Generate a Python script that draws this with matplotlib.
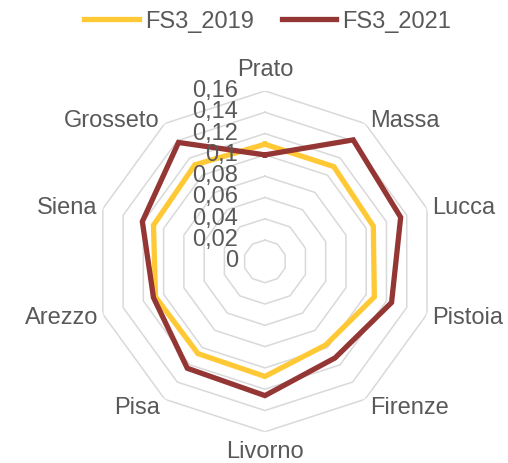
import numpy as np
import matplotlib
matplotlib.use('Agg')
import matplotlib.pyplot as plt

plt.rcParams['font.family'] = ['Liberation Sans', 'DejaVu Sans']

categories = ['Prato', 'Massa', 'Lucca', 'Pistoia', 'Firenze',
              'Livorno', 'Pisa', 'Arezzo', 'Siena', 'Grosseto']
fs3_2019 = [0.110, 0.110, 0.107, 0.108, 0.097, 0.108, 0.107, 0.108, 0.110, 0.112]
fs3_2021 = [0.100, 0.141, 0.134, 0.125, 0.112, 0.126, 0.124, 0.110, 0.121, 0.138]
r_ticks = [0, 0.02, 0.04, 0.06, 0.08, 0.10, 0.12, 0.14, 0.16]
r_labels = ['0', '0,02', '0,04', '0,06', '0,08', '0,1', '0,12', '0,14', '0,16']

# label offsets in pixels from the outer ring vertex
label_pos = {
    'Prato': (0, 22, 'center'), 'Massa': (5, 4, 'left'), 'Lucca': (5, 2, 'left'),
    'Pistoia': (5, -3, 'left'), 'Firenze': (5, -8, 'left'), 'Livorno': (0, -19, 'center'),
    'Pisa': (-5, -8, 'right'), 'Arezzo': (-5, -3, 'right'), 'Siena': (-5, 2, 'right'),
    'Grosseto': (-5, 4, 'right'),
}

text_col = '#595959'
grid_col = '#D9D9D9'
fsize = 17

n = len(categories)
theta = np.arange(n) * 2 * np.pi / n
theta_c = np.append(theta, theta[0])

fig = plt.figure(figsize=(5.08, 4.64), dpi=100)
ax = fig.add_axes([0.186, 0.067, 0.671, 0.735], projection='polar')
ax.set_theta_zero_location('N')
ax.set_theta_direction(-1)
ax.set_ylim(0, 0.16)
ax.grid(False)
ax.set_xticks([])
ax.set_yticks([])
ax.spines['polar'].set_visible(False)
ax.patch.set_alpha(0)

for v in r_ticks[1:]:
    ax.plot(theta_c, [v] * (n + 1), color=grid_col, lw=1.1, zorder=1)

ax.plot(theta_c, fs3_2019 + fs3_2019[:1], color='#FFC936', lw=3.8,
        label='FS3_2019', zorder=3, solid_joinstyle='miter')
ax.plot(theta_c, fs3_2021 + fs3_2021[:1], color='#943634', lw=3.8,
        label='FS3_2021', zorder=4, solid_joinstyle='miter')

for v, lab in zip(r_ticks, r_labels):
    ax.annotate(lab, xy=(0, v), xytext=(-27, 1), textcoords='offset pixels',
                ha='right', va='center', fontsize=fsize, color=text_col, zorder=5,
                annotation_clip=False)

for t, cat in zip(theta, categories):
    dx, dy, ha = label_pos[cat]
    ax.annotate(cat, xy=(t, 0.16), xytext=(dx, dy), textcoords='offset pixels',
                ha=ha, va='center', fontsize=fsize, color=text_col,
                annotation_clip=False)

fig.legend(loc='center', bbox_to_anchor=(0.527, 0.953), ncol=2, frameon=False,
           fontsize=fsize, labelcolor=text_col, handlelength=2.3,
           handletextpad=0.25, columnspacing=1.2)

fig.savefig('out.png', dpi=100)
